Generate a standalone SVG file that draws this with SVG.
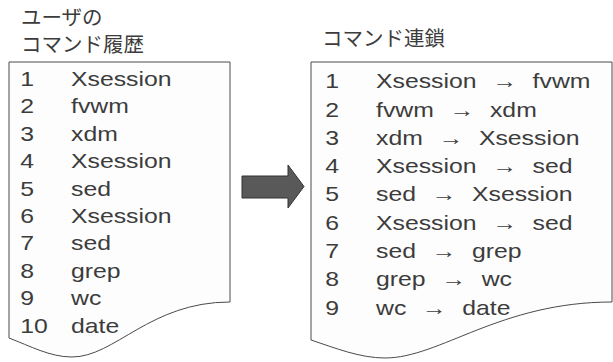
<svg xmlns="http://www.w3.org/2000/svg" width="613" height="362" viewBox="0 0 613 362">
<style>
.doc{fill:#fdfdfd;stroke:#4a4a4a;stroke-width:1}
.t{font-family:"Liberation Sans",Arial,sans-serif;font-size:20px;fill:#3c3c3c}
.ti{font-family:"Noto Sans CJK JP","Noto Sans",sans-serif;font-size:20.5px;fill:#3c3c3c}
.ar{text-anchor:middle}
.big{fill:#595959;stroke:#333;stroke-width:1}
</style>
<rect width="613" height="362" fill="#ffffff"/>
<g id="history">
<text class="ti" x="21" y="25">ユーザの</text>
<text class="ti" x="21" y="52">コマンド履歴</text>
<path class="doc" d="M9,62 H230 V302 C150,302 115,357 72,357 C50,357 30,346 9,338 Z"/>
<g transform="translate(71,0) scale(1.24,1)" class="t">
<text y="86"><tspan x="-41">1</tspan><tspan x="0">Xsession</tspan></text>
<text y="113.4"><tspan x="-41">2</tspan><tspan x="0">fvwm</tspan></text>
<text y="140.8"><tspan x="-41">3</tspan><tspan x="0">xdm</tspan></text>
<text y="168.2"><tspan x="-41">4</tspan><tspan x="0">Xsession</tspan></text>
<text y="195.6"><tspan x="-41">5</tspan><tspan x="0">sed</tspan></text>
<text y="223"><tspan x="-41">6</tspan><tspan x="0">Xsession</tspan></text>
<text y="250.4"><tspan x="-41">7</tspan><tspan x="0">sed</tspan></text>
<text y="277.8"><tspan x="-41">8</tspan><tspan x="0">grep</tspan></text>
<text y="305.2"><tspan x="-41">9</tspan><tspan x="0">wc</tspan></text>
<text y="332.6"><tspan x="-41">10</tspan><tspan x="0">date</tspan></text>
</g>
</g>
<g id="chains">
<text class="ti" x="322" y="46">コマンド連鎖</text>
<path class="doc" d="M311,62 H612 V302 C500,302 440,358 385,358 C360,358 335,348 311,340 Z"/>
<g transform="translate(376,0) scale(1.24,1)" class="t">
<text y="88.3"><tspan x="-41">1</tspan><tspan x="0">Xsession</tspan><tspan x="103.7" class="ar">→</tspan><tspan x="126.3">fvwm</tspan></text>
<text y="116.6"><tspan x="-41">2</tspan><tspan x="0">fvwm</tspan><tspan x="69.3" class="ar">→</tspan><tspan x="91.9">xdm</tspan></text>
<text y="144.9"><tspan x="-41">3</tspan><tspan x="0">xdm</tspan><tspan x="60.4" class="ar">→</tspan><tspan x="83">Xsession</tspan></text>
<text y="173.2"><tspan x="-41">4</tspan><tspan x="0">Xsession</tspan><tspan x="103.7" class="ar">→</tspan><tspan x="126.3">sed</tspan></text>
<text y="201.5"><tspan x="-41">5</tspan><tspan x="0">sed</tspan><tspan x="54.8" class="ar">→</tspan><tspan x="77.4">Xsession</tspan></text>
<text y="229.8"><tspan x="-41">6</tspan><tspan x="0">Xsession</tspan><tspan x="103.7" class="ar">→</tspan><tspan x="126.3">sed</tspan></text>
<text y="258.1"><tspan x="-41">7</tspan><tspan x="0">sed</tspan><tspan x="54.8" class="ar">→</tspan><tspan x="77.4">grep</tspan></text>
<text y="286.4"><tspan x="-41">8</tspan><tspan x="0">grep</tspan><tspan x="62.6" class="ar">→</tspan><tspan x="85.2">wc</tspan></text>
<text y="314.7"><tspan x="-41">9</tspan><tspan x="0">wc</tspan><tspan x="47" class="ar">→</tspan><tspan x="69.6">date</tspan></text>
</g>
</g>
<g id="connectors">
<polygon class="big" points="242,176 288,176 288,165 304,186.5 288,208 288,198 242,198"/>
</g>
</svg>
